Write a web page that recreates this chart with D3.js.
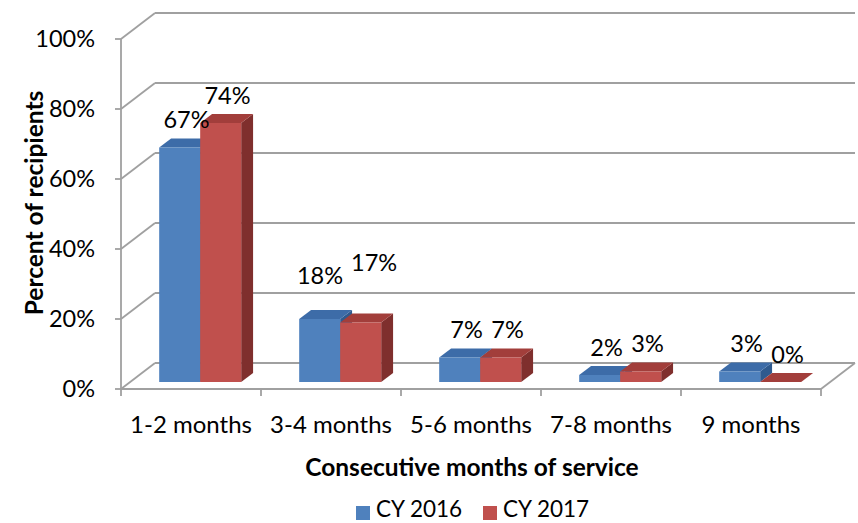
<!DOCTYPE html>
<html>
<head>
<meta charset="utf-8">
<script src="https://cdn.jsdelivr.net/npm/d3@7"></script>
<style>
  body { margin: 0; background: #fff; }
  text { font-family: Lato, "Open Sans", sans-serif; fill: #000; }
</style>
</head>
<body>
<script>
// Chart data
var categories = ["1-2 months", "3-4 months", "5-6 months", "7-8 months", "9 months"];
var seriesNames = ["CY 2016", "CY 2017"];
var cy2016 = [0.67, 0.18, 0.07, 0.02, 0.03];
var cy2017 = [0.74, 0.17, 0.07, 0.03, 0.00];
var yTicks = [0, 0.2, 0.4, 0.6, 0.8, 1.0];

var svgWidth = 858;
var svgHeight = 523;

// 3D box geometry: depth vector of the whole box, bar placement inside it
var depth = { dx: 34, dy: -26 };
var barZ0 = 0.27, barZ1 = 0.62;

var colors = {
  front: ["#4F81BD", "#C0504D"],
  top: ["#3D6CA8", "#A23E3B"],
  side: ["#2F5A8E", "#7F2F2D"]
};

var svg = d3.select("body")
  .append("svg")
  .attr("width", svgWidth)
  .attr("height", svgHeight);

// Scales (front plane)
var xScale = d3.scaleBand()
  .domain(categories)
  .range([121, 821]);

var xInner = d3.scaleBand()
  .domain(seriesNames)
  .range([29, xScale.bandwidth() - 29]);

var yScale = d3.scaleLinear()
  .domain([0, 1])
  .range([389, 39]);

function proj(x, y, z) {
  return [x + depth.dx * z, y + depth.dy * z];
}

var grid = svg.append("g")
  .attr("stroke", "#A0A0A0")
  .attr("stroke-width", 1.8)
  .attr("fill", "none");

// Back wall gridlines and left wall diagonals
yTicks.forEach(function(t) {
  var y = yScale(t);
  var a = proj(xScale.range()[0], y, 1);
  var b = proj(xScale.range()[1], y, 1);
  grid.append("line")
    .attr("x1", a[0]).attr("y1", a[1])
    .attr("x2", b[0]).attr("y2", b[1]);
  grid.append("line")
    .attr("x1", xScale.range()[0]).attr("y1", y)
    .attr("x2", a[0]).attr("y2", a[1]);
});

// Floor: right edge diagonal
var fr = proj(xScale.range()[1], yScale(0), 1);
grid.append("line")
  .attr("x1", xScale.range()[1]).attr("y1", yScale(0))
  .attr("x2", fr[0]).attr("y2", fr[1]);

// Bars
var bars = svg.append("g");
var allSeries = [cy2016, cy2017];

categories.forEach(function(cat, i) {
  seriesNames.forEach(function(name, s) {
    var v = allSeries[s][i];
    var xl = xScale(cat) + xInner(name);
    var xr = xl + xInner.bandwidth();
    var yt = yScale(v), yb = yScale(0);
    var fTL = proj(xl, yt, barZ0), fTR = proj(xr, yt, barZ0);
    var fBR = proj(xr, yb, barZ0), fBL = proj(xl, yb, barZ0);
    var bTL = proj(xl, yt, barZ1), bTR = proj(xr, yt, barZ1);
    var bBR = proj(xr, yb, barZ1);

    bars.append("polygon")
      .attr("points", [fTR, bTR, bBR, fBR].join(" "))
      .attr("fill", colors.side[s]);
    bars.append("polygon")
      .attr("points", [fTL, fTR, bTR, bTL].join(" "))
      .attr("fill", colors.top[s]);
    bars.append("polygon")
      .attr("points", [fTL, fTR, fBR, fBL].join(" "))
      .attr("fill", colors.front[s]);
  });
});

// Front axes
var axes = svg.append("g")
  .attr("stroke", "#A0A0A0")
  .attr("stroke-width", 1.8);

axes.append("line")
  .attr("x1", xScale.range()[0]).attr("y1", yScale(1))
  .attr("x2", xScale.range()[0]).attr("y2", yScale(0));
axes.append("line")
  .attr("x1", xScale.range()[0]).attr("y1", yScale(0))
  .attr("x2", xScale.range()[1]).attr("y2", yScale(0));

yTicks.forEach(function(t) {
  axes.append("line")
    .attr("x1", xScale.range()[0] - 6).attr("y1", yScale(t))
    .attr("x2", xScale.range()[0]).attr("y2", yScale(t));
});

d3.range(categories.length + 1).forEach(function(i) {
  var x = xScale.range()[0] + i * xScale.step();
  axes.append("line")
    .attr("x1", x).attr("y1", yScale(0))
    .attr("x2", x).attr("y2", yScale(0) + 7);
});

// Y tick labels
svg.append("g").selectAll("text")
  .data(yTicks)
  .join("text")
  .attr("x", 95)
  .attr("y", d => yScale(d) + 8)
  .attr("text-anchor", "end")
  .attr("font-size", 23.5)
  .text(d3.format(".0%"));

// Category labels
svg.append("g").selectAll("text")
  .data(categories)
  .join("text")
  .attr("x", d => xScale(d) + xScale.bandwidth() / 2)
  .attr("y", 433)
  .attr("text-anchor", "middle")
  .attr("font-size", 24)
  .text(d => d);

// Data labels, placed above the bar top; overlapping neighbours get pushed apart
var labels = svg.append("g");
var placed = [];
categories.forEach(function(cat, i) {
  seriesNames.forEach(function(name, s) {
    var v = allSeries[s][i];
    var cx = xScale(cat) + xInner(name) + xInner.bandwidth() / 2;
    var top = proj(cx, yScale(v), barZ1);
    var t = labels.append("text")
      .attr("x", cx + 16)
      .attr("y", top[1] - 10)
      .attr("text-anchor", "middle")
      .attr("font-size", 23.5)
      .text(d3.format(".0%")(v));
    var lab = { node: t, x: cx + 16, y: top[1] - 10, w: t.node().getComputedTextLength() };
    var prev = placed[placed.length - 1];
    if (prev && s === 1) {
      var gap = (lab.x - prev.x) - (lab.w + prev.w) / 2;
      if (gap < 0 && Math.abs(lab.y - prev.y) < 22) {
        var shift = (-gap + 8) / 2;
        prev.x -= shift; prev.y -= 16;
        lab.x += shift; lab.y -= 32;
        prev.node.attr("x", prev.x).attr("y", prev.y);
        lab.node.attr("x", lab.x).attr("y", lab.y);
      }
    }
    placed.push(lab);
  });
});

// Axis titles
svg.append("text")
  .attr("x", 472)
  .attr("y", 476)
  .attr("text-anchor", "middle")
  .attr("font-size", 24.5)
  .attr("font-weight", "bold")
  .text("Consecutive months of service");

svg.append("text")
  .attr("transform", "translate(43, 203) rotate(-90)")
  .attr("text-anchor", "middle")
  .attr("font-size", 24.5)
  .attr("font-weight", "bold")
  .text("Percent of recipients");

// Legend
var legend = svg.append("g");
var legendX = [356, 483];
seriesNames.forEach(function(name, s) {
  legend.append("rect")
    .attr("x", legendX[s]).attr("y", 506)
    .attr("width", 14).attr("height", 14)
    .attr("fill", colors.front[s]);
  legend.append("text")
    .attr("x", legendX[s] + 20)
    .attr("y", 517)
    .attr("font-size", 22.5)
    .text(name);
});
</script>
</body>
</html>
